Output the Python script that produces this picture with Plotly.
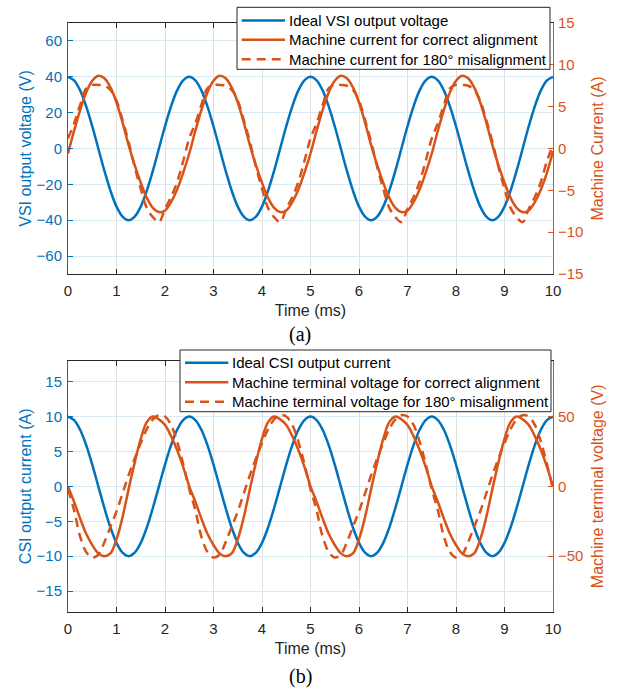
import plotly.graph_objects as go

# ---------------------------------------------------------------- data
# sample instants (ms), 0.125 ms spacing over 0 ... 10 ms
TIME_MS = [round(0.125 * i, 3) for i in range(81)]

# (a) VSI-fed machine
vsi_voltage_V = [
    40, 38, 32.4, 23.5, 12.4, 0, -12.4, -23.5, -32.4, -38,
    -40, -38, -32.4, -23.5, -12.4, 0, 12.4, 23.5, 32.4, 38,
    40, 38, 32.4, 23.5, 12.4, 0, -12.4, -23.5, -32.4, -38,
    -40, -38, -32.4, -23.5, -12.4, 0, 12.4, 23.5, 32.4, 38,
    40, 38, 32.4, 23.5, 12.4, 0, -12.4, -23.5, -32.4, -38,
    -40, -38, -32.4, -23.5, -12.4, 0, 12.4, 23.5, 32.4, 38,
    40, 38, 32.4, 23.5, 12.4, 0, -12.4, -23.5, -32.4, -38,
    -40, -38, -32.4, -23.5, -12.4, 0, 12.4, 23.5, 32.4, 38,
    40,
]
current_aligned_A = [
    -0.6, 2.1, 4.6, 6.7, 8.1, 8.7, 8.4, 7.3, 5.5, 3.1,
    0.4, -2.0, -4.1, -5.9, -7.1, -7.6, -7.4, -6.4, -4.9, -2.9,
    -0.6, 2.1, 4.6, 6.7, 8.1, 8.7, 8.4, 7.3, 5.5, 3.1,
    0.4, -2.0, -4.1, -5.9, -7.1, -7.6, -7.4, -6.4, -4.9, -2.9,
    -0.6, 2.1, 4.6, 6.7, 8.1, 8.7, 8.4, 7.3, 5.5, 3.1,
    0.4, -2.0, -4.1, -5.9, -7.1, -7.6, -7.4, -6.4, -4.9, -2.9,
    -0.6, 2.1, 4.6, 6.7, 8.1, 8.7, 8.4, 7.3, 5.5, 3.1,
    0.4, -2.0, -4.1, -5.9, -7.1, -7.6, -7.4, -6.4, -4.9, -2.9,
    -0.3,
]
current_misaligned_A = [
    1.2, 3.0, 5.2, 7.2, 7.6, 7.6, 7.5, 7.0, 5.7, 3.4,
    0.8, -2.2, -4.8, -7.1, -8.2, -8.8, -7.2, -5.8, -4.0, -1.5,
    1.2, 3.0, 5.2, 7.2, 7.6, 7.6, 7.5, 7.0, 5.7, 3.4,
    0.8, -2.2, -4.8, -7.1, -8.2, -8.8, -7.2, -5.8, -4.0, -1.5,
    1.2, 3.0, 5.2, 7.2, 7.6, 7.6, 7.5, 7.0, 5.7, 3.4,
    0.8, -2.2, -4.8, -7.1, -8.2, -8.8, -7.2, -5.8, -4.0, -1.5,
    1.2, 3.0, 5.2, 7.2, 7.6, 7.6, 7.5, 7.0, 5.7, 3.4,
    0.8, -2.2, -4.8, -7.1, -8.2, -8.8, -7.2, -5.8, -4.0, -1.5,
    0.4,
]

# (b) CSI-fed machine
csi_current_A = [
    10, 9.5, 8.1, 5.9, 3.1, 0, -3.1, -5.9, -8.1, -9.5,
    -10, -9.5, -8.1, -5.9, -3.1, 0, 3.1, 5.9, 8.1, 9.5,
    10, 9.5, 8.1, 5.9, 3.1, 0, -3.1, -5.9, -8.1, -9.5,
    -10, -9.5, -8.1, -5.9, -3.1, 0, 3.1, 5.9, 8.1, 9.5,
    10, 9.5, 8.1, 5.9, 3.1, 0, -3.1, -5.9, -8.1, -9.5,
    -10, -9.5, -8.1, -5.9, -3.1, 0, 3.1, 5.9, 8.1, 9.5,
    10, 9.5, 8.1, 5.9, 3.1, 0, -3.1, -5.9, -8.1, -9.5,
    -10, -9.5, -8.1, -5.9, -3.1, 0, 3.1, 5.9, 8.1, 9.5,
    10,
]
terminal_aligned_V = [
    0, -11, -23, -34, -42, -48, -50, -48, -38, -22,
    -2, 17, 34, 46, 50, 48, 44, 36, 26, 14,
    0, -11, -23, -34, -42, -48, -50, -48, -38, -22,
    -2, 17, 34, 46, 50, 48, 44, 36, 26, 14,
    0, -11, -23, -34, -42, -48, -50, -48, -38, -22,
    -2, 17, 34, 46, 50, 48, 44, 36, 26, 14,
    0, -11, -23, -34, -42, -48, -50, -48, -38, -22,
    -2, 17, 34, 46, 50, 48, 44, 36, 26, 14,
    0,
]
terminal_misaligned_V = [
    -2, -17, -36, -47, -51, -49, -40, -29, -18, -5,
    8, 20, 31, 41, 48, 51, 50, 44, 32, 16,
    -2, -17, -36, -47, -51, -49, -40, -29, -18, -5,
    8, 20, 31, 41, 48, 51, 50, 44, 32, 16,
    -2, -17, -36, -47, -51, -49, -40, -29, -18, -5,
    8, 20, 31, 41, 48, 51, 50, 44, 32, 16,
    -2, -17, -36, -47, -51, -49, -40, -29, -18, -5,
    8, 20, 31, 41, 48, 51, 50, 44, 32, 16,
    -2,
]

legend_a = [
    "Ideal VSI output voltage",
    "Machine current for correct alignment",
    "Machine current for 180° misalignment",
]
legend_b = [
    "Ideal CSI output current",
    "Machine terminal voltage for correct alignment",
    "Machine terminal voltage for 180° misalignment",
]

# ---------------------------------------------------------------- style
BLUE = "#0072BD"
ORANGE = "#D95319"
AXIS = "#262626"
GRID_X = "rgb(223,223,223)"
GRID_Y = "rgb(217,234,245)"
SANS = "Liberation Sans, Arial, sans-serif"
SERIF = "Liberation Serif, Times New Roman, serif"
TICK_FS = 15
TITLE_FS = 16
LEG_FS = 15
LW = 2.5
DASH = "9px,6px"

W, H = 625, 689
ML, MR, MT, MB = 68, 72, 23, 77
PW, PH = W - ML - MR, H - MT - MB


def px_x(px):
    return (px - ML) / PW


def px_y(py):
    return (H - MB - py) / PH


fig = go.Figure()

line_kw = dict(mode="lines", line_shape="spline", showlegend=False, hoverinfo="skip")
fig.add_trace(go.Scatter(x=TIME_MS, y=vsi_voltage_V, xaxis="x", yaxis="y",
                         line=dict(color=BLUE, width=LW), name=legend_a[0], **line_kw))
fig.add_trace(go.Scatter(x=TIME_MS, y=current_aligned_A, xaxis="x", yaxis="y2",
                         line=dict(color=ORANGE, width=LW), name=legend_a[1], **line_kw))
fig.add_trace(go.Scatter(x=TIME_MS, y=current_misaligned_A, xaxis="x", yaxis="y2",
                         line=dict(color=ORANGE, width=LW, dash=DASH), name=legend_a[2], **line_kw))

fig.add_trace(go.Scatter(x=TIME_MS, y=csi_current_A, xaxis="x2", yaxis="y3",
                         line=dict(color=BLUE, width=LW), name=legend_b[0], **line_kw))
fig.add_trace(go.Scatter(x=TIME_MS, y=terminal_aligned_V, xaxis="x2", yaxis="y4",
                         line=dict(color=ORANGE, width=LW), name=legend_b[1], **line_kw))
fig.add_trace(go.Scatter(x=TIME_MS, y=terminal_misaligned_V, xaxis="x2", yaxis="y4",
                         line=dict(color=ORANGE, width=LW, dash=DASH), name=legend_b[2], **line_kw))

top_dom = [px_y(274), 1.0]
bot_dom = [0.0, px_y(360.7)]

xcommon = dict(range=[0, 10], dtick=1, tick0=0, ticks="inside", ticklen=5, tickcolor=AXIS,
               showline=True, linecolor=AXIS, linewidth=1, mirror="ticks",
               showgrid=True, gridcolor=GRID_X, gridwidth=1, zeroline=False,
               ticklabelstandoff=3,
               tickfont=dict(family=SANS, size=TICK_FS, color=AXIS),
               title=dict(text="Time (ms)", font=dict(family=SANS, size=TITLE_FS, color=AXIS),
                          standoff=6))


def yleft(rng, dtick, title, domain):
    return dict(domain=domain, range=rng, dtick=dtick, tick0=0, ticks="inside", ticklen=5,
                tickcolor=BLUE, showline=True, linecolor=BLUE, linewidth=1,
                showgrid=True, gridcolor=GRID_Y, gridwidth=1, zeroline=False,
                ticklabelstandoff=2,
                tickfont=dict(family=SANS, size=TICK_FS, color=BLUE),
                title=dict(text=title, font=dict(family=SANS, size=TITLE_FS, color=BLUE),
                           standoff=0))


def yright(rng, over, anchor, title, **kw):
    return dict(overlaying=over, side="right", anchor=anchor, range=rng, ticks="inside",
                ticklen=5, tickcolor=ORANGE, showline=True, linecolor=ORANGE, linewidth=1,
                showgrid=False, zeroline=False, ticklabelstandoff=1,
                tickfont=dict(family=SANS, size=TICK_FS, color=ORANGE),
                title=dict(text=title, font=dict(family=SANS, size=TITLE_FS, color=ORANGE),
                           standoff=9),
                **kw)


fig.update_layout(
    width=W, height=H,
    margin=dict(l=ML, r=MR, t=MT, b=MB, pad=0),
    paper_bgcolor="white", plot_bgcolor="white",
    font=dict(family=SANS, size=TICK_FS, color=AXIS),
    xaxis=dict(anchor="y", domain=[0, 1], **xcommon),
    xaxis2=dict(anchor="y3", domain=[0, 1], **xcommon),
    yaxis=yleft([-70, 70], 20, "VSI output voltage (V)", top_dom),
    yaxis2=yright([-15, 15], "y", "x", "Machine Current (A)", dtick=5, tick0=0),
    yaxis3=yleft([-18, 18], 5, "CSI output current (A)", bot_dom),
    yaxis4=yright([-90, 90], "y3", "x2", "Machine terminal voltage (V)", tickvals=[-50, 0, 50]),
    showlegend=False,
)

# ---------------------------------------------------------------- legends
shapes, annotations = [], []


def add_legend(box, line_x, rows, text_x, labels):
    x0, x1, y0, y1 = box
    shapes.append(dict(type="rect", xref="paper", yref="paper",
                       x0=px_x(x0), x1=px_x(x1), y0=px_y(y1), y1=px_y(y0),
                       fillcolor="white", line=dict(color=AXIS, width=1), layer="above"))
    styles = [(BLUE, "solid"), (ORANGE, "solid"), (ORANGE, DASH)]
    for (color, dash), ry, label in zip(styles, rows, labels):
        shapes.append(dict(type="line", xref="paper", yref="paper",
                           x0=px_x(line_x[0]), x1=px_x(line_x[1]), y0=px_y(ry), y1=px_y(ry),
                           line=dict(color=color, width=LW, dash=dash), layer="above"))
        annotations.append(dict(xref="paper", yref="paper", x=px_x(text_x), y=px_y(ry),
                                xanchor="left", yanchor="middle", showarrow=False, text=label,
                                font=dict(family=SANS, size=LEG_FS, color="black")))


add_legend((237, 550, 7.3, 69.3), (241.7, 285), (20.5, 39.8, 59.2), 287, legend_a)
add_legend((180, 551, 350, 411.7), (185, 228.3), (362.7, 382.3, 401.7), 229.5, legend_b)

# panel captions
annotations.append(dict(xref="paper", yref="paper", x=px_x(300), y=px_y(334), text="(a)",
                        showarrow=False, xanchor="center", yanchor="middle",
                        font=dict(family=SERIF, size=20, color="black")))
annotations.append(dict(xref="paper", yref="paper", x=px_x(300), y=px_y(676), text="(b)",
                        showarrow=False, xanchor="center", yanchor="middle",
                        font=dict(family=SERIF, size=20, color="black")))

fig.update_layout(shapes=shapes, annotations=annotations)

fig.write_html("out.html")
